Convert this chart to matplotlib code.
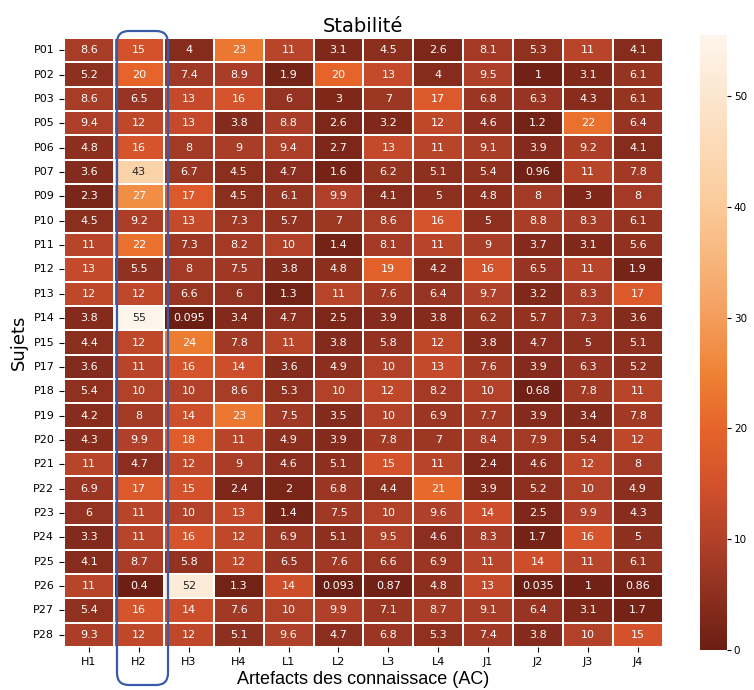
import matplotlib
matplotlib.use("Agg")
from matplotlib import pyplot as plt
from matplotlib.patches import FancyBboxPatch
from matplotlib.colors import LinearSegmentedColormap
import numpy as np
import pandas as pd
import seaborn as sns

sujets = ['P01', 'P02', 'P03', 'P05', 'P06', 'P07', 'P09', 'P10', 'P11', 'P12',
          'P13', 'P14', 'P15', 'P17', 'P18', 'P19', 'P20', 'P21', 'P22', 'P23',
          'P24', 'P25', 'P26', 'P27', 'P28']
artefacts = ['H1', 'H2', 'H3', 'H4', 'L1', 'L2', 'L3', 'L4', 'J1', 'J2', 'J3', 'J4']

# one list per row (sujet), values in artefact order
p01 = [8.6, 15, 4, 23, 11, 3.1, 4.5, 2.6, 8.1, 5.3, 11, 4.1]
p02 = [5.2, 20, 7.4, 8.9, 1.9, 20, 13, 4, 9.5, 1, 3.1, 6.1]
p03 = [8.6, 6.5, 13, 16, 6, 3, 7, 17, 6.8, 6.3, 4.3, 6.1]
p05 = [9.4, 12, 13, 3.8, 8.8, 2.6, 3.2, 12, 4.6, 1.2, 22, 6.4]
p06 = [4.8, 16, 8, 9, 9.4, 2.7, 13, 11, 9.1, 3.9, 9.2, 4.1]
p07 = [3.6, 43, 6.7, 4.5, 4.7, 1.6, 6.2, 5.1, 5.4, 0.96, 11, 7.8]
p09 = [2.3, 27, 17, 4.5, 6.1, 9.9, 4.1, 5, 4.8, 8, 3, 8]
p10 = [4.5, 9.2, 13, 7.3, 5.7, 7, 8.6, 16, 5, 8.8, 8.3, 6.1]
p11 = [11, 22, 7.3, 8.2, 10, 1.4, 8.1, 11, 9, 3.7, 3.1, 5.6]
p12 = [13, 5.5, 8, 7.5, 3.8, 4.8, 19, 4.2, 16, 6.5, 11, 1.9]
p13 = [12, 12, 6.6, 6, 1.3, 11, 7.6, 6.4, 9.7, 3.2, 8.3, 17]
p14 = [3.8, 55, 0.095, 3.4, 4.7, 2.5, 3.9, 3.8, 6.2, 5.7, 7.3, 3.6]
p15 = [4.4, 12, 24, 7.8, 11, 3.8, 5.8, 12, 3.8, 4.7, 5, 5.1]
p17 = [3.6, 11, 16, 14, 3.6, 4.9, 10, 13, 7.6, 3.9, 6.3, 5.2]
p18 = [5.4, 10, 10, 8.6, 5.3, 10, 12, 8.2, 10, 0.68, 7.8, 11]
p19 = [4.2, 8, 14, 23, 7.5, 3.5, 10, 6.9, 7.7, 3.9, 3.4, 7.8]
p20 = [4.3, 9.9, 18, 11, 4.9, 3.9, 7.8, 7, 8.4, 7.9, 5.4, 12]
p21 = [11, 4.7, 12, 9, 4.6, 5.1, 15, 11, 2.4, 4.6, 12, 8]
p22 = [6.9, 17, 15, 2.4, 2, 6.8, 4.4, 21, 3.9, 5.2, 10, 4.9]
p23 = [6, 11, 10, 13, 1.4, 7.5, 10, 9.6, 14, 2.5, 9.9, 4.3]
p24 = [3.3, 11, 16, 12, 6.9, 5.1, 9.5, 4.6, 8.3, 1.7, 16, 5]
p25 = [4.1, 8.7, 5.8, 12, 6.5, 7.6, 6.6, 6.9, 11, 14, 11, 6.1]
p26 = [11, 0.4, 52, 1.3, 14, 0.093, 0.87, 4.8, 13, 0.035, 1, 0.86]
p27 = [5.4, 16, 14, 7.6, 10, 9.9, 7.1, 8.7, 9.1, 6.4, 3.1, 1.7]
p28 = [9.3, 12, 12, 5.1, 9.6, 4.7, 6.8, 5.3, 7.4, 3.8, 10, 15]

rows = [p01, p02, p03, p05, p06, p07, p09, p10, p11, p12, p13, p14, p15,
        p17, p18, p19, p20, p21, p22, p23, p24, p25, p26, p27, p28]
df = pd.DataFrame(rows, index=sujets, columns=artefacts)

# brown -> red-orange -> cream, a bit redder than plain Oranges_r
cmap = LinearSegmentedColormap.from_list('stab', [
    (0.00, '#6b1e13'), (0.09, '#8e3020'), (0.18, '#b2412a'),
    (0.27, '#d3512b'), (0.36, '#e6642a'), (0.45, '#ef8235'),
    (0.55, '#f4a060'), (0.73, '#fbcc9c'), (1.00, '#fdf5ec')])

figure = plt.figure(figsize=(7.54, 6.9), dpi=100)
ax = figure.add_axes([0.085, 0.0623, 0.794, 0.8826])
cax = figure.add_axes([0.928, 0.058, 0.036, 0.891])

sns.heatmap(df, ax=ax, cbar_ax=cax, cmap=cmap, vmin=0, vmax=55.5, annot=True,
            annot_kws={'fontsize': 8}, linewidths=1.2, linecolor='white')

ax.set_title('Stabilité', fontsize=14, pad=4)
ax.set_ylabel('Sujets', fontsize=13)
ax.set_xlabel('Artefacts des connaissace (AC)', fontsize=13,
              family='Liberation Sans', labelpad=3)
ax.tick_params(axis='both', labelsize=8)
ax.set_yticklabels(ax.get_yticklabels(), rotation=0)
cax.tick_params(labelsize=7.5, length=3, pad=2)

# blue highlight round the H2 column
box = FancyBboxPatch((1.17, 0.05), 0.51, 6.54,
                     boxstyle='round,pad=0,rounding_size=0.12',
                     transform=figure.dpi_scale_trans, fill=False,
                     edgecolor='#3a5ca8', linewidth=1.6, zorder=10)
figure.patches.append(box)

figure.savefig('out.png', dpi=100)
